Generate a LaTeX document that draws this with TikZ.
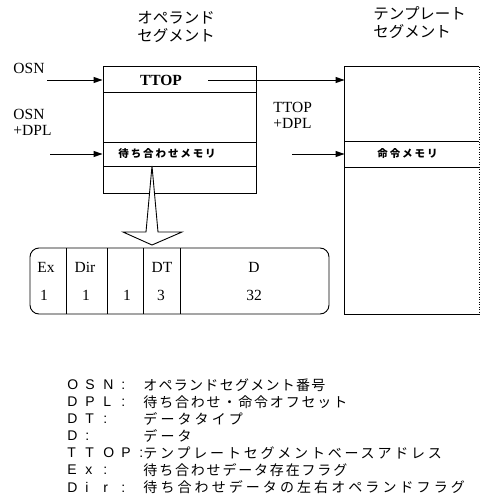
\documentclass[tikz,border=0pt]{standalone}
\usepackage{fontspec}
\setmainfont{Liberation Serif}
\newfontfamily\jp{Noto Sans CJK JP}
\newfontfamily\jprow{Noto Sans CJK JP}[LetterSpace=18]
\newfontfamily\lgd{Liberation Sans}
\usetikzlibrary{arrows.meta,fit}
\newcommand\lch[1]{\makebox[18pt][l]{#1}}
\newcommand\jls[1]{\jp\addfontfeature{LetterSpace=#1}}
\begin{document}
\begin{tikzpicture}[x=1pt,y=-1pt,line width=0.9pt,
  cell/.style={draw,inner sep=0pt,line width=0.9pt},
  tcell/.style={inner sep=0pt},
  lab/.style={font=\fontsize{15.5}{16}\selectfont,inner sep=0pt},
  hdr/.style={font=\jp\fontsize{15.5}{18}\selectfont,inner sep=0pt,align=left},
  rowlab/.style={font=\jprow\bfseries\fontsize{10.5}{11}\selectfont,inner sep=0pt},
  arr/.style={-{Triangle[length=9pt,width=6pt]},line width=0.9pt},
  lgl/.style={font=\lgd\fontsize{14}{14}\selectfont,inner sep=0pt,anchor=west},
  lgt/.style={inner sep=0pt,anchor=west}]
\useasboundingbox (0,0) rectangle (480,503);

% headers
\node[hdr,anchor=north west] (ophdr) at (137,11) {オペランド\\セグメント};
\node[hdr,anchor=north west] (tphdr) at (373,6) {テンプレート\\セグメント};

% operand segment
\node[cell,fit={(103,66)(256,92)}] (ttop) {};
\node[lab,font=\bfseries\fontsize{15.5}{15}\selectfont] (ttoplab) at (161,80) {TTOP};
\node[cell,fit={(103,92)(256,142)}] (op2) {};
\node[cell,fit={(103,142)(256,166)}] (waitmem) {};
\node[rowlab,anchor=west] (waitlab) at (118,154) {待ち合わせメモリ};
\node[cell,fit={(103,166)(256,193)}] (op4) {};

% template segment
\node[tcell,fit={(345,67)(479,142)}] (t1) {};
\node[tcell,fit={(345,142)(479,167)}] (instmem) {};
\node[tcell,fit={(345,167)(479,314)}] (t3) {};
\node[rowlab,anchor=west] (instlab) at (377,154) {命令メモリ};
\draw (t1.north east) -- (t1.north west) -- (t3.south west) -- (t3.south east);
\draw (instmem.north west) -- (instmem.north east);
\draw (instmem.south west) -- (instmem.south east);
\draw[line width=0.5pt,dotted] (t1.north east) -- (t3.south east);

% input arrows
\node[lab,anchor=base west] (osn) at (13,73.5) {OSN};
\coordinate (osnin) at (47,80);
\draw[arr] (osnin) -- (ttop.west |- osnin);
\node[lab,anchor=base west,align=left] (osndpl) at (13,135.5) {OSN\\+DPL};
\coordinate (dplin) at (50,154);
\draw[arr] (dplin) -- (waitmem.west |- dplin);

\coordinate (ttopout) at (208,80);
\draw[arr] (ttopout) -- (t1.west |- ttopout);
\node[lab,anchor=base west,align=left] (ttopdpl) at (273,128) {TTOP\\+DPL};
\coordinate (tdplin) at (292,154);
\draw[arr] (tdplin) -- (instmem.west |- tdplin);

% big arrow
\draw[fill=white,line width=0.9pt,line join=miter]
  (152,166) -- (158,232) -- (182,232) -- (152,245) -- (123,232) -- (146,232) -- cycle;

% record
\node[draw,rounded corners=9pt,inner sep=0pt,fit={(30,248)(329,314)}] (rec) {};
\foreach \xx in {66,107,143,180}{\draw (\xx,248) -- (\xx,314);}
\node[lab] (ex) at (46,267) {Ex};
\node[lab] (dir) at (85,267) {Dir};
\node[lab] (dt) at (162,267) {DT};
\node[lab] (d) at (254,267) {D};
\node[lab] (v1) at (44,295) {1};
\node[lab] (v2) at (86,295) {1};
\node[lab] (v3) at (127,295) {1};
\node[lab] (v4) at (161,295) {3};
\node[lab] (v5) at (254,295) {32};

% legend
\node[lgl] (l1) at (67,385) {\lch{O}\lch{S}\lch{N}\lch{:}};
\node[lgt,font=\jls{9}\fontsize{14}{14}\selectfont] (t1x) at (143,385) {オペランドセグメント番号};
\node[lgl] (l2) at (67,402) {\lch{D}\lch{P}\lch{L}\lch{:}};
\node[lgt,font=\jls{13}\fontsize{14}{14}\selectfont] (t2x) at (143,402) {待ち合わせ・命令オフセット};
\node[lgl] (l3) at (67,419) {\lch{D}\lch{T}\lch{:}};
\node[lgt,font=\jls{22}\fontsize{14}{14}\selectfont] (t3x) at (143,419) {データタイプ};
\node[lgl] (l4) at (67,436) {\lch{D}\lch{:}};
\node[lgt,font=\jls{22}\fontsize{14}{14}\selectfont] (t4x) at (143,436) {データ};
\node[lgl] (l5) at (67,453) {\lch{T}\lch{T}\lch{O}\lch{P}\lch{:}};
\node[lgt,font=\jls{20}\fontsize{14}{14}\selectfont] (t5x) at (143,453) {テンプレートセグメントベースアドレス};
\node[lgl] (l6) at (67,470) {\lch{E}\lch{x}\lch{:}};
\node[lgt,font=\jls{13}\fontsize{14}{14}\selectfont] (t6x) at (143,470) {待ち合わせデータ存在フラグ};
\node[lgl] (l7) at (67,487) {\lch{D}\lch{i}\lch{r}\lch{:}};
\node[lgt,font=\jls{22}\fontsize{14}{14}\selectfont] (t7x) at (143,487) {待ち合わせデータの左右オペランドフラグ};
\end{tikzpicture}
\end{document}
